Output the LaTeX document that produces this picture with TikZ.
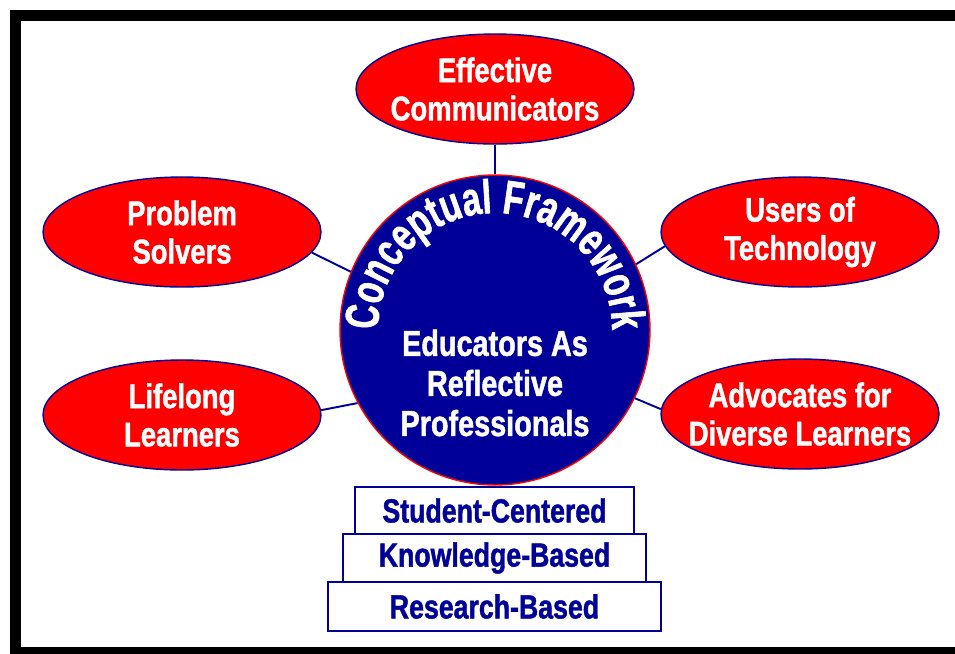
\documentclass[tikz,border=0pt]{standalone}
\usepackage{fontspec}
\setmainfont{Liberation Sans}[FakeStretch=0.8, BoldFeatures={FakeBold=1.3}]
\newfontfamily\arcfont{Liberation Sans}[FakeStretch=0.7, BoldFeatures={FakeBold=1.3}]
\usepackage{xcolor}
\usepackage{tikz}
\usetikzlibrary{positioning, shapes.geometric, decorations.text}
\definecolor{navy}{RGB}{0,0,153}
\definecolor{fwred}{RGB}{255,0,0}

\begin{document}
\begin{tikzpicture}[x=0.02cm, y=-0.02cm]
        \tikzstyle{trait} = [ellipse, draw=navy, fill=fwred, line width=0.8pt, minimum width=5.56cm, minimum height=2.2cm, inner xsep=-0.5cm, inner ysep=0pt, text=white, align=center, font=\bfseries\fontsize{19.5}{21.8}\selectfont]
        \tikzstyle{base} = [rectangle, draw=navy, fill=white, line width=1.1pt, outer sep=0pt, inner sep=0pt, text=navy, font=\bfseries\fontsize{19}{19}\selectfont]
        \tikzstyle{link} = [navy, line width=1.1pt]

        \useasboundingbox (0,0) rectangle (955,653);
        \draw [line width=0.22cm] (15.5,15.5) rectangle (975,652.5);

        % outcomes around the core
        \node [trait] (ec) at (495,89) {Effective\\Communicators};
        \node [trait] (ps) at (182,232) {Problem\\Solvers};
        \node [trait] (ut) at (800,232) {Users of\\Technology};
        \node [trait] (ll) at (182,415) {Lifelong\\Learners};
        \node [trait] (ad) at (800,414) {Advocates for\\Diverse Learners};

        % core circle
        \node [circle, draw=fwred, fill=navy, line width=0.8pt, minimum size=6.2cm, inner sep=0pt] (cf) at (495,330) {};
        \path [decorate, decoration={text along path, text align=fit to path, text color=white,
            text={|\arcfont\bfseries\fontsize{27}{27}\selectfont|Conceptual Framework}}]
            (cf.center) ++(-2.34cm,0) arc[start angle=180, end angle=0, radius=2.34cm];
        \node [text=white, align=center, font=\bfseries\fontsize{20.5}{22.8}\selectfont] (erp) at (495,383) {Educators As\\Reflective\\Professionals};

        % foundation steps
        \node [base, minimum width=5.58cm, minimum height=0.94cm] (sc) at (494.5,510.5) {Student-Centered};
        \node [base, minimum width=6.06cm, minimum height=0.96cm, below=0pt of sc] (kb) {Knowledge-Based};
        \node [base, minimum width=6.66cm, minimum height=0.98cm, below=0pt of kb] (rb) {Research-Based};

        \draw [link] (ec) -- (cf);
        \draw [link] (ps.-9) -- (cf.158);
        \draw [link] (ll.2) -- (cf.208);
        \draw [link] (ut.186) -- (cf.25);
        \draw [link] (ad.178) -- (cf.-26);
    \end{tikzpicture}
\end{document}
